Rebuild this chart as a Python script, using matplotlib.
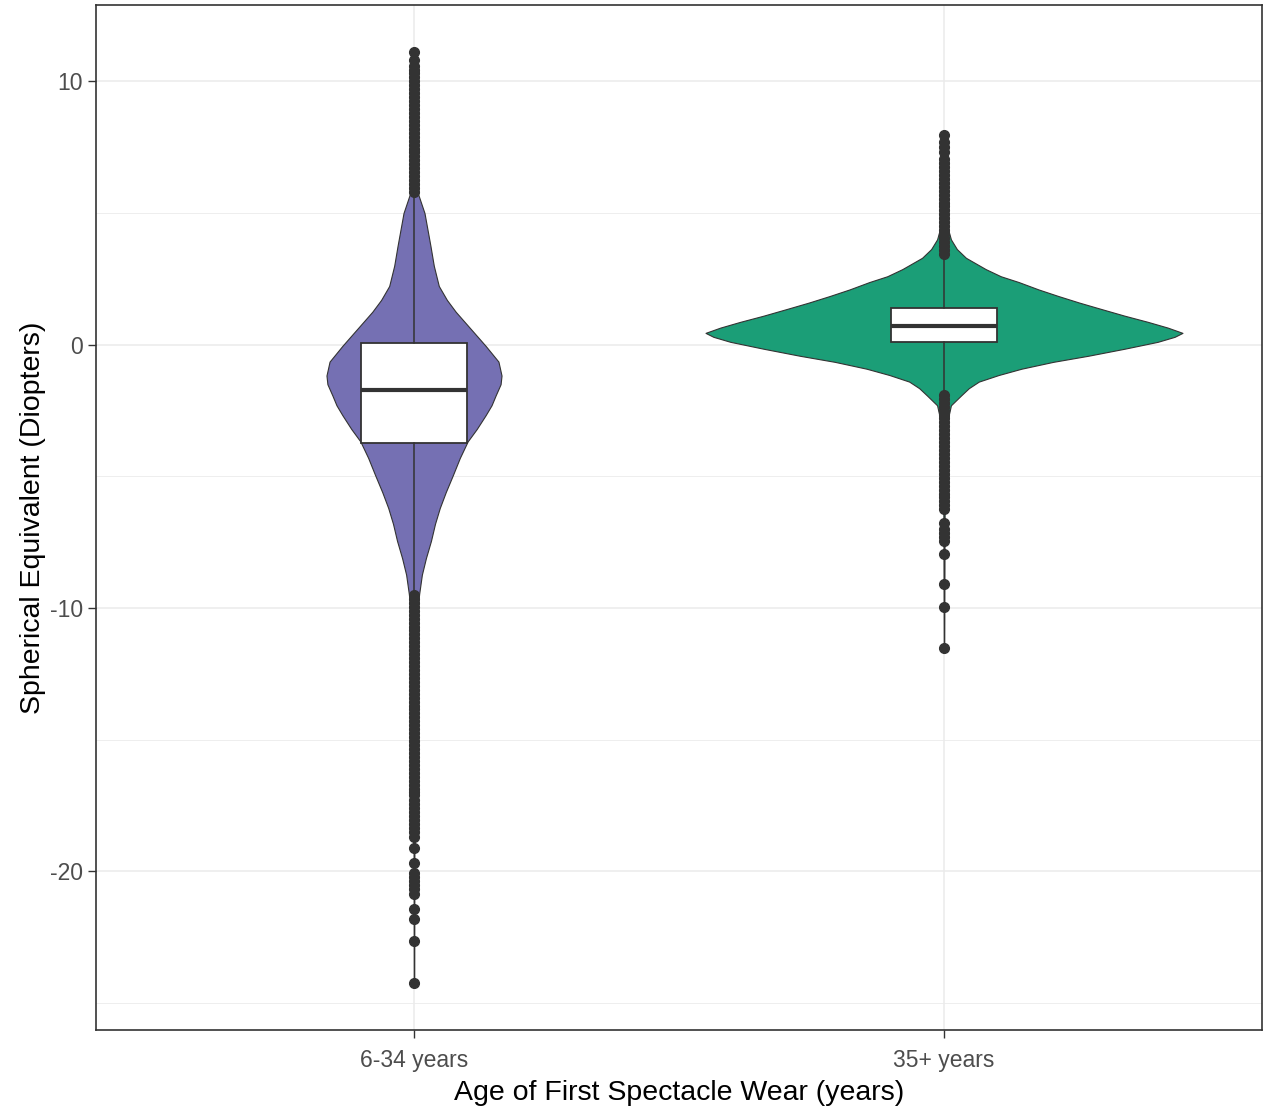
import matplotlib
matplotlib.use("Agg")
import matplotlib.pyplot as plt
import numpy as np

plt.rcParams["font.family"] = ["Liberation Sans", "DejaVu Sans"]
plt.rcParams["axes.unicode_minus"] = False

groups = ["6-34 years", "35+ years"]
fill_colors = ["#7570B3", "#1B9E77"]

# violin outlines: sampled SE value and density relative to the widest group
young_se = [11.13, 9.0, 7.0, 6.0, 5.78, 5.0, 4.4, 3.75, 3.0, 2.23, 1.7, 1.25, 0.6,
            -0.04, -0.64, -1.17, -1.5, -1.93, -2.3, -2.68, -3.2, -3.67, -4.3, -4.95,
            -5.6, -6.2, -6.8, -7.45, -8.1, -8.73, -9.5, -10.5, -13.0, -17.0, -24.25]
young_density = [0.001, 0.002, 0.003, 0.012, 0.015, 0.044, 0.056, 0.069, 0.083, 0.104,
                 0.138, 0.175, 0.238, 0.30, 0.354, 0.367, 0.363, 0.342, 0.325, 0.30,
                 0.263, 0.225, 0.192, 0.163, 0.133, 0.108, 0.088, 0.071, 0.05, 0.033,
                 0.021, 0.008, 0.003, 0.002, 0.001]
older_se = [7.98, 6.0, 4.39, 4.0, 3.63, 3.3, 2.87, 2.6, 2.38, 2.1, 1.85, 1.6, 1.36,
            1.1, 0.87, 0.65, 0.45, 0.3, 0.11, -0.15, -0.42, -0.65, -0.91, -1.15, -1.4,
            -1.65, -1.93, -2.3, -3.0, -5.0, -11.51]
older_density = [0.001, 0.003, 0.017, 0.029, 0.054, 0.092, 0.175, 0.238, 0.313, 0.396,
                 0.479, 0.567, 0.658, 0.758, 0.854, 0.938, 1.0, 0.967, 0.896, 0.758,
                 0.604, 0.458, 0.325, 0.229, 0.146, 0.104, 0.071, 0.029, 0.012, 0.003,
                 0.001]

# box summaries: lower whisker, Q1, median, Q3, upper whisker
young_box = [-9.45, -3.75, -1.73, 0.06, 5.7]
older_box = [-1.85, 0.1, 0.7, 1.4, 3.35]

young_outliers = [5.8, 5.95, 6.1, 6.25, 6.4, 6.55, 6.7, 6.85, 7.0, 7.15, 7.3, 7.45,
                  7.6, 7.75, 7.9, 8.05, 8.2, 8.35, 8.5, 8.65, 8.8, 8.95, 9.1, 9.25,
                  9.4, 9.55, 9.7, 9.85, 10.0, 10.15, 10.3, 10.45, 10.6, 10.8, 11.13,
                  -9.5, -9.65, -9.8, -9.95, -10.1, -10.25, -10.4, -10.55, -10.7,
                  -10.85, -11.0, -11.15, -11.3, -11.45, -11.6, -11.75, -11.9, -12.05,
                  -12.2, -12.35, -12.5, -12.65, -12.8, -12.95, -13.1, -13.25, -13.4,
                  -13.55, -13.7, -13.85, -14.0, -14.15, -14.3, -14.45, -14.6, -14.75,
                  -14.9, -15.05, -15.2, -15.35, -15.5, -15.65, -15.8, -15.95, -16.1,
                  -16.25, -16.4, -16.55, -16.7, -16.85, -17.0, -17.1,
                  -17.3, -17.45, -17.6, -17.75, -17.9, -18.05, -18.2, -18.35, -18.5,
                  -18.68, -19.1, -19.67, -20.05, -20.2, -20.35, -20.5, -20.65, -20.87,
                  -21.44, -21.82, -22.64, -24.25]
older_outliers = [3.45, 3.6, 3.75, 3.9, 4.05, 4.2, 4.35, 4.5, 4.65, 4.8, 4.95, 5.1,
                  5.25, 5.4, 5.55, 5.7, 5.85, 6.0, 6.15, 6.3, 6.45, 6.6, 6.75, 6.9,
                  7.05, 7.31, 7.5, 7.69, 7.98,
                  -1.9, -2.05, -2.2, -2.35, -2.5, -2.65, -2.8, -2.95, -3.1, -3.25,
                  -3.4, -3.55, -3.7, -3.85, -4.0, -4.15, -4.3, -4.45, -4.6, -4.75,
                  -4.9, -5.05, -5.2, -5.35, -5.5, -5.65, -5.8, -5.95, -6.1, -6.24,
                  -6.75, -7.0, -7.15, -7.3, -7.45, -7.95, -9.08, -9.94, -11.51]

violin_se = [young_se, older_se]
violin_density = [young_density, older_density]
box_stats = [young_box, older_box]
outliers = [young_outliers, older_outliers]

dark = "#333333"
grid_col = "#EBEBEB"

fig = plt.figure(figsize=(12.65, 11.12), dpi=100)
ax = fig.add_axes([96 / 1265, 82 / 1112, (1262 - 96) / 1265, (1107 - 82) / 1112])

positions = np.arange(1, len(groups) + 1)
half_width = 0.45

for pos, se, dens, color in zip(positions, violin_se, violin_density, fill_colors):
    se = np.asarray(se)
    w = np.asarray(dens) * half_width
    ax.fill_betweenx(se, pos - w, pos + w, facecolor=color, edgecolor=dark,
                     linewidth=0.8, zorder=2)

stats = []
for label, b, fl in zip(groups, box_stats, outliers):
    stats.append({"label": label, "whislo": b[0], "q1": b[1], "med": b[2],
                  "q3": b[3], "whishi": b[4], "fliers": fl})

ax.bxp(stats, positions=positions, widths=0.2, patch_artist=True, showcaps=False,
       boxprops=dict(facecolor="white", edgecolor=dark, linewidth=1.3),
       medianprops=dict(color=dark, linewidth=3.0),
       whiskerprops=dict(color=dark, linewidth=1.1),
       flierprops=dict(marker="o", markersize=7, markerfacecolor=dark,
                       markeredgecolor=dark, linestyle="none"),
       zorder=3)

lo = min(min(o) for o in outliers)
hi = max(max(o) for o in outliers)
pad = 0.05 * (hi - lo)
ax.set_ylim(lo - pad, hi + pad)
ax.set_xlim(0.4, len(groups) + 0.6)

ax.set_yticks([-20, -10, 0, 10])
ax.set_yticks([-25, -15, -5, 5], minor=True)
ax.set_xticks(positions)
ax.set_xticklabels(groups)

ax.grid(which="major", color=grid_col, linewidth=1.1, zorder=0)
ax.grid(which="minor", axis="y", color=grid_col, linewidth=0.6, zorder=0)
ax.set_axisbelow(True)

for spine in ax.spines.values():
    spine.set_color(dark)
    spine.set_linewidth(1.2)

ax.tick_params(axis="both", which="major", length=5.5, width=1.0, color=dark,
               labelsize=16.5, labelcolor="#4D4D4D")
ax.tick_params(axis="x", which="major", pad=8)
ax.tick_params(axis="y", which="major", pad=4)
ax.tick_params(axis="y", which="minor", length=0)

ax.set_xlabel("Age of First Spectacle Wear (years)", fontsize=20.5, color="black",
              labelpad=6)
ax.set_ylabel("Spherical Equivalent (Diopters)", fontsize=20.5, color="black",
              labelpad=3)

fig.savefig("out.png", dpi=100)
